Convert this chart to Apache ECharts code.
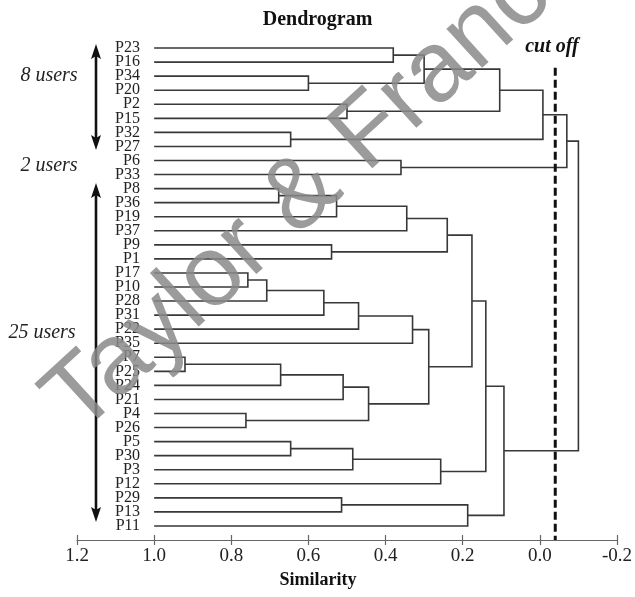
<!DOCTYPE html>
<html>
<head>
<meta charset="utf-8">
<script src="https://cdn.jsdelivr.net/npm/echarts@6/dist/echarts.min.js"></script>
<style>
  html, body { margin: 0; padding: 0; background: #fff; }
  #chart { width: 635px; height: 597px; }
</style>
</head>
<body>
<div id="chart"></div>
<script>
// leaf order, top to bottom
const leaves = ['P23', 'P16', 'P34', 'P20', 'P2', 'P15', 'P32', 'P27', 'P6', 'P33',
  'P8', 'P36', 'P19', 'P37', 'P9', 'P1', 'P17', 'P10', 'P28', 'P31', 'P22', 'P35',
  'P7', 'P25', 'P24', 'P21', 'P4', 'P26', 'P5', 'P30', 'P3', 'P12', 'P29', 'P13', 'P11'];

// merges: [child a, child b, similarity]; a number means an earlier merge
const merges = [
  ['P34', 'P20', 0.60],   // 0
  ['P23', 'P16', 0.38],   // 1
  [1, 0, 0.30],           // 2
  ['P2', 'P15', 0.50],    // 3
  [2, 3, 0.104],          // 4
  ['P32', 'P27', 0.646],  // 5
  [4, 5, -0.008],         // 6
  ['P6', 'P33', 0.36],    // 7
  [6, 7, -0.07],          // 8
  ['P8', 'P36', 0.677],   // 9
  [9, 'P19', 0.527],      // 10
  [10, 'P37', 0.345],     // 11
  ['P9', 'P1', 0.54],     // 12
  [11, 12, 0.24],         // 13
  ['P17', 'P10', 0.757],  // 14
  [14, 'P28', 0.708],     // 15
  [15, 'P31', 0.56],      // 16
  [16, 'P22', 0.47],      // 17
  [17, 'P35', 0.33],      // 18
  ['P7', 'P25', 0.92],    // 19
  [19, 'P24', 0.672],     // 20
  [20, 'P21', 0.51],      // 21
  ['P4', 'P26', 0.762],   // 22
  [21, 22, 0.444],        // 23
  [18, 23, 0.288],        // 24
  [13, 24, 0.176],        // 25
  ['P5', 'P30', 0.646],   // 26
  [26, 'P3', 0.485],      // 27
  [27, 'P12', 0.257],     // 28
  [25, 28, 0.14],         // 29
  ['P29', 'P13', 0.514],  // 30
  [30, 'P11', 0.187],     // 31
  [29, 31, 0.093],        // 32
  [8, 32, -0.10]          // 33
];

const leafSimilarity = 1.0;
const cutOff = -0.04;
const xMin = -0.2, xMax = 1.2, xStep = 0.2;

// build the U shaped links from the merge list
const nodes = [];
const links = [];
function pos(ref) {
  if (typeof ref === 'string') return { x: leafSimilarity, y: leaves.indexOf(ref) };
  return nodes[ref];
}
merges.forEach(([a, b, h]) => {
  const pa = pos(a), pb = pos(b);
  links.push([pa.x, pa.y, pb.x, pb.y, h]);
  nodes.push({ x: h, y: (pa.y + pb.y) / 2 });
});

const serif = 'Liberation Serif';
const chart = echarts.init(document.getElementById('chart'));

function arrow(x, y1, y2) {
  return [
    { type: 'line', shape: { x1: x, y1: y1 + 10, x2: x, y2: y2 - 10 }, style: { stroke: '#111', lineWidth: 2.6 } },
    { type: 'polygon', shape: { points: [[x, y1], [x - 5, y1 + 15], [x, y1 + 12], [x + 5, y1 + 15]] }, style: { fill: '#111' } },
    { type: 'polygon', shape: { points: [[x, y2], [x - 5, y2 - 15], [x, y2 - 12], [x + 5, y2 - 15]] }, style: { fill: '#111' } }
  ];
}

function italicText(text, x, y) {
  return {
    type: 'text', x: x, y: y,
    style: { text: text, fill: '#222', font: 'italic 20px "' + serif + '"', textAlign: 'center', textVerticalAlign: 'middle' }
  };
}

const option = {
  backgroundColor: '#fff',
  animation: false,
  title: {
    text: 'Dendrogram',
    left: 'center',
    top: 5,
    textStyle: { fontFamily: serif, fontWeight: 'bold', fontSize: 20, color: '#111' }
  },
  grid: { left: 77, right: 18, top: 34, bottom: 57 },
  xAxis: [{
    type: 'value', inverse: true, min: xMin, max: xMax, interval: xStep,
    name: 'Similarity', nameLocation: 'middle', nameGap: 27,
    nameTextStyle: { fontFamily: serif, fontWeight: 'bold', fontSize: 18, color: '#111', padding: [0, 58, 0, 0] },
    axisLine: { onZero: false, lineStyle: { color: '#666', width: 1.2 } },
    axisTick: { length: 5, lineStyle: { color: '#666', width: 1.2 } },
    axisLabel: {
      fontFamily: serif, fontSize: 19, color: '#222', margin: 7,
      formatter: v => (Math.abs(v) < 1e-9 ? 0 : v).toFixed(1)
    },
    splitLine: { show: false }
  }, {
    type: 'value', inverse: true, min: xMin, max: xMax, interval: xStep, position: 'bottom',
    axisLine: { show: false, onZero: false },
    axisTick: { inside: true, length: 5, lineStyle: { color: '#666', width: 1.2 } },
    axisLabel: { show: false },
    splitLine: { show: false }
  }],
  yAxis: {
    // one empty slot above the first leaf keeps every leaf label visible
    type: 'value', inverse: true, min: -1, max: 35, interval: 1, offset: -77,
    axisLine: { show: false, onZero: false }, axisTick: { show: false }, splitLine: { show: false },
    axisLabel: {
      fontFamily: serif, fontSize: 16, color: '#222', margin: 14,
      formatter: v => leaves[v] || ''
    }
  },
  series: [{
    type: 'custom',
    xAxisIndex: 0,
    data: links,
    encode: { x: [0, 2, 4], y: [1, 3] },
    renderItem: (params, api) => {
      const p1 = api.coord([api.value(0), api.value(1)]);
      const p2 = api.coord([api.value(4), api.value(1)]);
      const p3 = api.coord([api.value(4), api.value(3)]);
      const p4 = api.coord([api.value(2), api.value(3)]);
      return {
        type: 'polyline',
        shape: { points: [p1, p2, p3, p4] },
        style: { stroke: '#383838', lineWidth: 1.6, fill: null }
      };
    }
  }, {
    type: 'line',
    xAxisIndex: 0,
    data: [[cutOff, 1.4], [cutOff, 35]],
    symbol: 'none',
    lineStyle: { color: '#111', width: 3, type: [8, 4] },
    z: 3
  }],
  graphic: [
    ...arrow(96, 44, 150),
    ...arrow(96, 183, 522),
    italicText('8 users', 49, 76),
    italicText('2 users', 49, 166),
    italicText('25 users', 42, 333),
    {
      type: 'text', x: 552, y: 47,
      style: { text: 'cut off', fill: '#111', font: 'italic bold 20px "' + serif + '"', textAlign: 'center', textVerticalAlign: 'middle' }
    },
    {
      type: 'text', x: 325, y: 174, rotation: 0.74, z: 100,
      style: { text: 'Taylor & Francis', fill: '#8a8a8a', opacity: 0.85, font: '100px "Liberation Sans"', textAlign: 'center', textVerticalAlign: 'middle' }
    }
  ]
};

chart.setOption(option);
</script>
</body>
</html>
